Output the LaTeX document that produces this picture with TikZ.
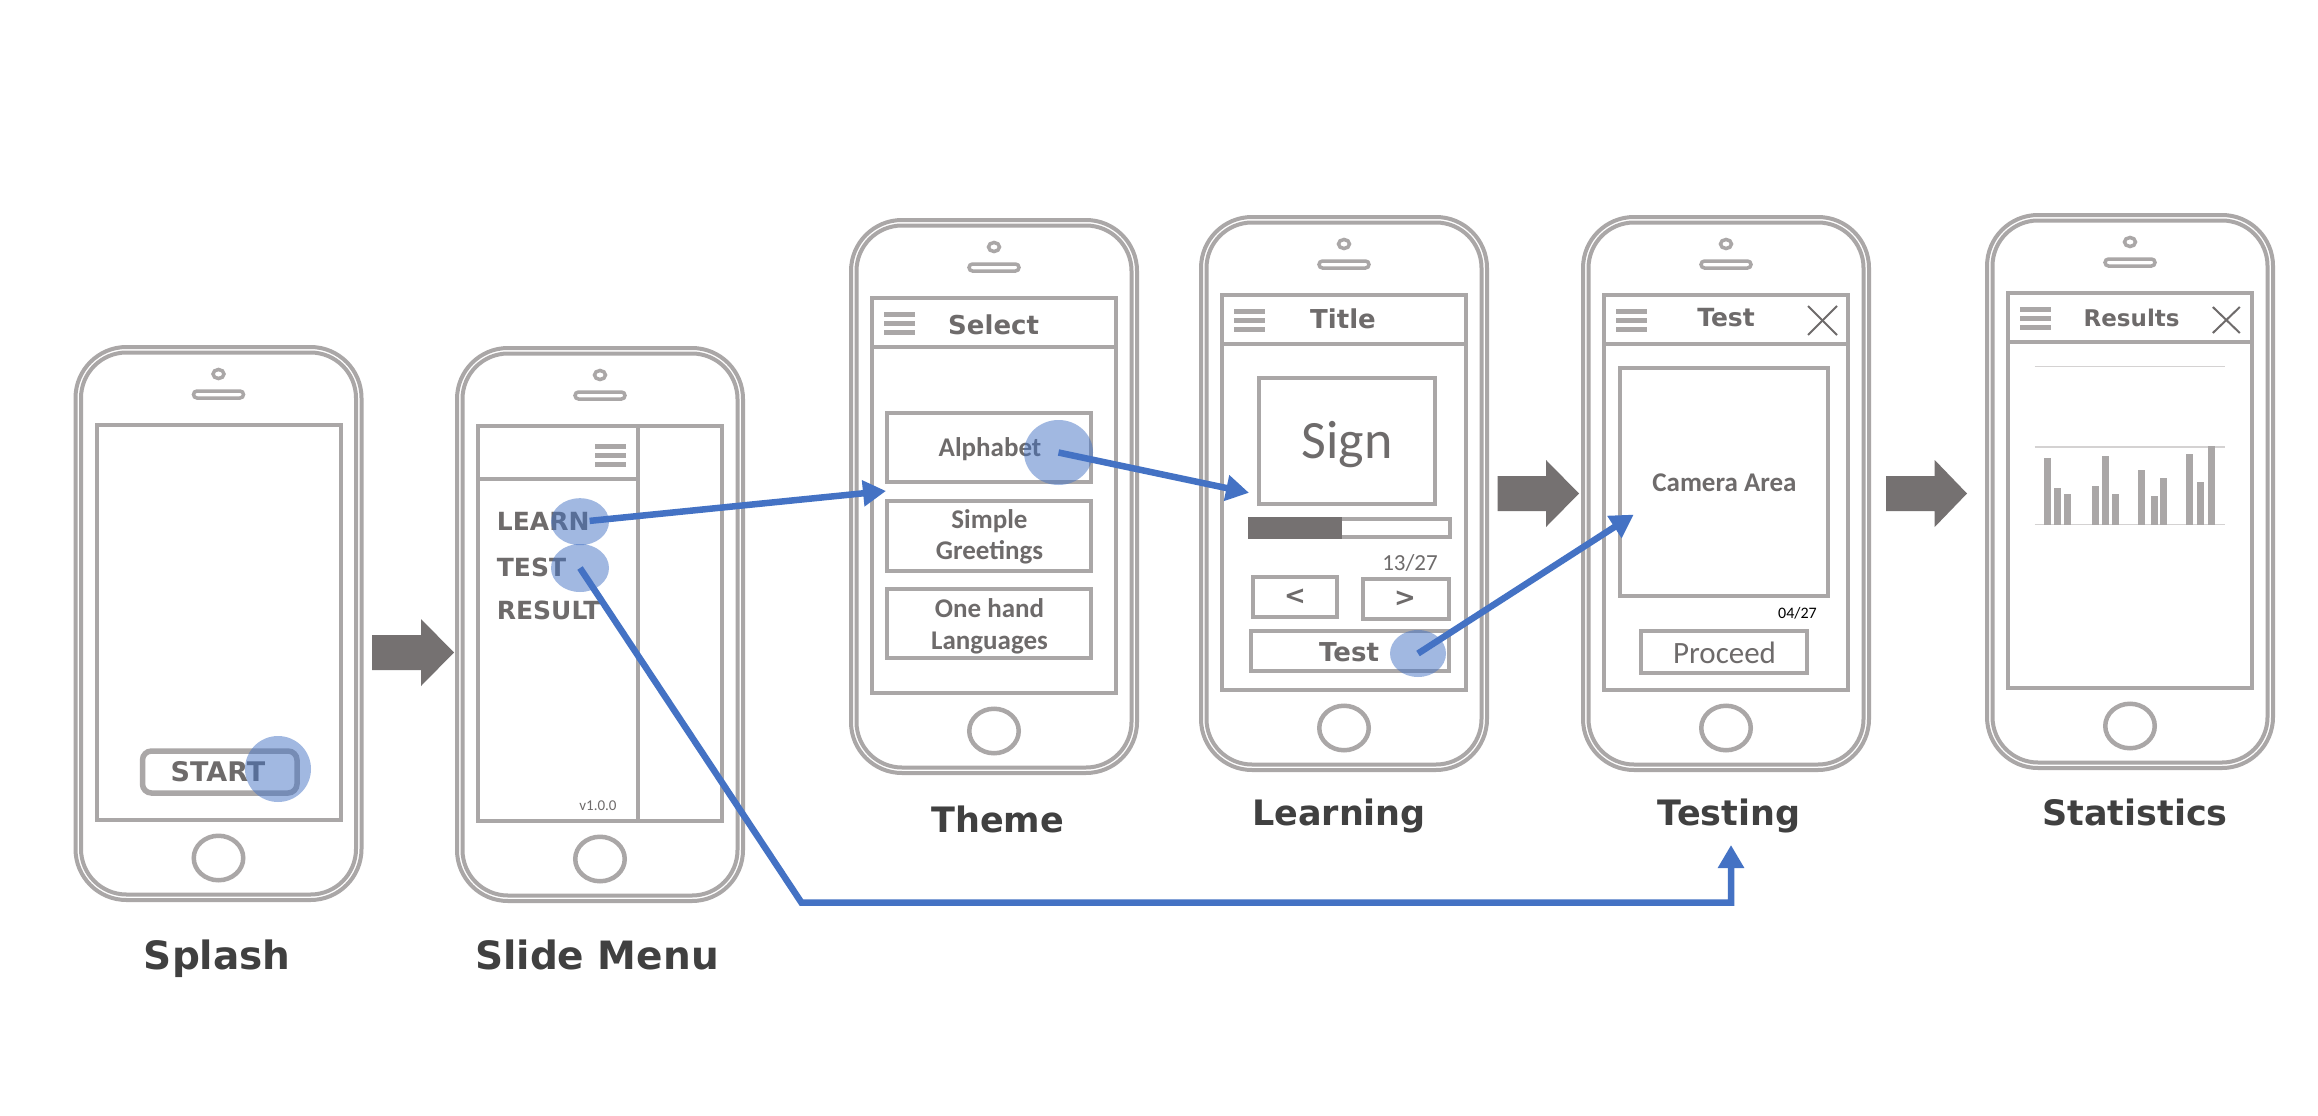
\documentclass[tikz,border=0pt]{standalone}
\usepackage{fontspec}
\setmainfont{DejaVu Sans}
\newfontfamily\calf{Carlito}
\usetikzlibrary{arrows.meta,shapes.geometric}
\definecolor{olc}{HTML}{AAA7A7}
\definecolor{tg}{HTML}{6E6B6B}
\definecolor{dg}{HTML}{757171}
\definecolor{lab}{HTML}{404040}
\definecolor{bl}{HTML}{4472C4}
\definecolor{chl}{HTML}{D4D2D2}
\newcommand\fsz[1]{\fontsize{#1pt}{#1pt}\selectfont}
\newcommand\phoneframe[2]{%
  \begin{scope}[shift={(#1,#2)}]
    \draw[ol, rounded corners=51pt] (-143,2) rectangle (143,555);
    \draw[ol, rounded corners=45.5pt] (-137.5,7.5) rectangle (137.5,549.5);
    \draw[ol, line width=3.5pt] (0,29) ellipse[x radius=5.5pt, y radius=4.5pt];
    \draw[ol, line width=3.5pt, rounded corners=3.5pt] (-25,46) rectangle (25,53);
    \draw[ol, line width=4.5pt] (0,513) ellipse[x radius=24.75pt, y radius=22.25pt];
    \draw[ol] (-122,80) rectangle (122,475);
  \end{scope}}
\newcommand\burger[2]{%
  \fill[olc] (#1,#2) rectangle ++(31,5);
  \fill[olc] (#1,#2+9) rectangle ++(31,5);
  \fill[olc] (#1,#2+18) rectangle ++(31,5);}
\begin{document}
\begin{tikzpicture}[x=1pt,y=-1pt,
  ol/.style={draw=olc, line width=4pt},
  lbl/.style={inner sep=0, anchor=base, text=lab, font=\bfseries\fsz{#1}},
  dvt/.style={inner sep=0, anchor=base, text=tg, font=\bfseries\fsz{#1}},
  cbt/.style={inner sep=0, anchor=base, text=tg, font=\calf\bfseries\fsz{#1}},
  crt/.style={inner sep=0, anchor=base, text=tg, font=\calf\fsz{#1}},
  blob/.style={ellipse, fill=bl, fill opacity=.5, inner sep=0, draw=none},
  link/.style={draw=bl, line width=6.5pt, -{Triangle[length=23pt,width=25pt]}},
  xicon/.style={draw=tg, line width=2pt}]
\useasboundingbox (0,0) rectangle (2318,1116);
\fill[white] (0,0) rectangle (2318,1116);

% phone frames
\phoneframe{218.5}{345}
\phoneframe{600}{346}
\phoneframe{994}{218}
\phoneframe{1344}{215}
\phoneframe{1726}{215}
\phoneframe{2130}{213}

% headers with menu icon
\foreach \cx/\ty in {994/218, 1344/215, 1726/215, 2130/213}{
  \draw[ol] (\cx-122,\ty+128.5) -- (\cx+122,\ty+128.5);
  \burger{\cx-110}{\ty+93.5}
}

% Splash
\draw[draw=olc, line width=5.5pt, rounded corners=9pt] (142.5,751) rectangle (297,793);
\node[dvt=27] (startT) at (218,781.6) {START};
\node[blob, minimum width=66pt, minimum height=66pt] (startB) at (278,769) {};

% Slide menu
\draw[ol] (478,479) -- (638,479);
\draw[ol] (638,426) -- (638,821);
\burger{595}{444}
\node[dvt=25, anchor=base west] (learnT) at (496.7,530) {LEARN};
\node[dvt=25, anchor=base west] (testT) at (496.7,576.8) {TEST};
\node[dvt=25, anchor=base west] (resT) at (496.7,619) {RESULT};
\node[crt=15] (ver) at (598,810) {v1.0.0};
\node[blob, minimum width=58pt, minimum height=47pt] (learnB) at (580,521.7) {};
\node[blob, minimum width=58pt, minimum height=48pt] (testB) at (580,568) {};

% Theme
\node[dvt=26] (selT) at (993.6,334) {Select};
\draw[ol] (887,413) rectangle (1091,482);
\draw[ol] (887,501) rectangle (1091,571);
\draw[ol] (887,589) rectangle (1091,658);
\node[cbt=27] (alphaT) at (990,456.7) {Alphabet};
\node[cbt=27] (simpT) at (989.5,528.3) {Simple};
\node[cbt=27] (greetT) at (989.5,559.3) {Greetings};
\node[cbt=27] (oneT) at (989.5,617) {One hand};
\node[cbt=27] (langT) at (989.5,649) {Languages};
\node[blob, minimum width=69pt, minimum height=65pt] (alphaB) at (1058.5,452.5) {};

% Learning
\node[dvt=26] (titleT) at (1343,328) {Title};
\draw[ol] (1258.7,378) rectangle (1434.8,504);
\node[crt=54] (signT) at (1347,458.3) {Sign};
\draw[ol] (1250,518.7) rectangle (1449.7,537.3);
\fill[dg] (1248,516.7) rectangle (1341.7,539.3);
\node[crt=23] (cntT) at (1410,570) {13/27};
\draw[ol] (1252.7,577) rectangle (1337,617);
\draw[ol] (1363,579) rectangle (1449,619);
\node[dvt=26, anchor=center] (prevT) at (1295,597) {\textless};
\node[dvt=26, anchor=center] (nextT) at (1405,599) {\textgreater};
\draw[ol] (1251,631) rectangle (1449,670.7);
\node[dvt=26] (ltestT) at (1349,661.7) {Test};
\node[blob, minimum width=56pt, minimum height=47pt] (ltestB) at (1418,653.5) {};

% Testing
\node[dvt=25] (ttT) at (1726,326) {Test};
\draw[xicon] (1808,306) -- (1837,335);
\draw[xicon] (1837,306) -- (1808,335);
\draw[ol] (1620,367.7) rectangle (1828,596);
\node[cbt=27] (camT) at (1724.5,491.7) {Camera Area};
\node[crt=16, text=black] (cnt2T) at (1797.5,618) {04/27};
\draw[ol] (1640.8,631) rectangle (1806.7,672.5);
\node[crt=31] (procT) at (1724.5,663.8) {Proceed};

% Statistics
\node[dvt=23] (resTT) at (2131.6,326.3) {Results};
\draw[xicon] (2212.8,307) -- (2239.8,333);
\draw[xicon] (2239.8,307) -- (2212.8,333);
\foreach \ly in {366.5,447,524.5}
  \draw[chl, line width=1.8pt] (2034.7,\ly) -- (2224.5,\ly);
\foreach \bx/\by in {2047.4/458.3, 2057.7/488.2, 2067.3/493.9, 2095.4/485.9, 2105.6/455.6, 2115.8/493.9, 2141.3/470.2, 2154/495.8, 2163.3/478.2, 2189.8/453.7, 2200/482, 2211.7/446.1}
  \fill[olc] (\bx-3.5,\by) rectangle (\bx+3.5,524.5);

% labels
\node[lbl=39] (l1) at (217.3,969) {Splash};
\node[lbl=39] (l2) at (597,969) {Slide Menu};
\node[lbl=35] (l3) at (997.6,832) {Theme};
\node[lbl=35] (l4) at (1339,825) {Learning};
\node[lbl=35] (l5) at (1729,825) {Testing};
\node[lbl=35] (l6) at (2135,825) {Statistics};

% block arrows
\fill[dg] (372,635) -- (421,635) -- (421,619) -- (454,652.5) -- (421,686) -- (421,670) -- (372,670) -- cycle;
\fill[dg] (1497.6,476) -- (1546,476) -- (1546,460) -- (1579,493.5) -- (1546,527) -- (1546,511) -- (1497.6,511) -- cycle;
\fill[dg] (1886,476) -- (1934.7,476) -- (1934.7,460) -- (1967,493.5) -- (1934.7,527) -- (1934.7,511) -- (1886,511) -- cycle;

% blue links
\coordinate (tipTheme) at (886,491);
\coordinate (tipLearn) at (1249,492.8);
\coordinate (tipTest) at (1633.7,514.6);
\coordinate (bendA) at (801.5,902.7);
\coordinate (bendB) at (1731,902.7);
\coordinate (tipTesting) at (1731,845);
\draw[link] (learnT.east) -- (tipTheme);
\draw[link] (alphaB.center) -- (tipLearn);
\draw[link] (ltestB.center) -- (tipTest);
\draw[link] (testB.center) -- (bendA) -- (bendB) -- (tipTesting);
\end{tikzpicture}
\end{document}
